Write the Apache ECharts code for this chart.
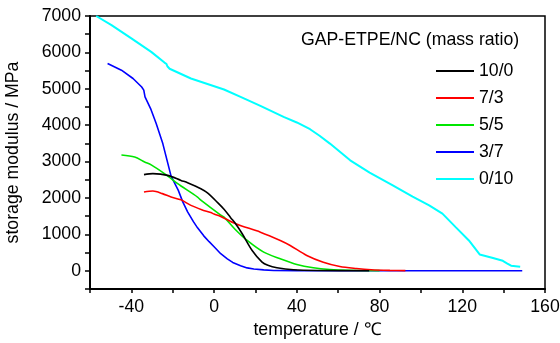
<!DOCTYPE html>
<html>
<head>
<meta charset="utf-8">
<script src="https://cdn.jsdelivr.net/npm/echarts@6/dist/echarts.min.js"></script>
<style>html,body{margin:0;padding:0;background:#fff;}#c{width:560px;height:343px;}</style>
</head>
<body>
<div id="c"></div>
<script>
var seriesNames = ['10/0', '7/3', '5/5', '3/7', '0/10'];
var seriesColors = ['#000000', '#ff0000', '#00e600', '#0000ff', '#00ffff'];

var t_10_0 = [-33.9, -29.6, -22.4, -16, -12.8, -6.4, -3.2, 1.6, 4.8, 8, 10.4, 13.6, 18.4, 23.2, 26, 30.4, 38.4, 50, 75];
var e_10_0 = [2642, 2669, 2622, 2483, 2420, 2256, 2140, 1880, 1690, 1460, 1293, 1018, 559, 237, 150, 83, 28, 8, 2];

var t_7_3 = [-33.9, -29.6, -25, -20.8, -16, -11.2, -6, -1.6, 0, 3.2, 10.4, 22.4, 32, 36.8, 44.8, 52.8, 60.8, 68.8, 76, 85, 92.5];
var e_7_3 = [2163, 2191, 2120, 2026, 1950, 1797, 1680, 1600, 1560, 1494, 1293, 1062, 834, 696, 421, 237, 118, 63, 30, 12, 5];

var t_5_5 = [-44.8, -38.4, -33.6, -30.4, -24, -17.6, -16, -8, -6.4, 3.2, 4.8, 10, 16, 24, 32, 40, 48, 56, 65, 80];
var e_5_5 = [3180, 3126, 2990, 2910, 2669, 2394, 2330, 2026, 1940, 1530, 1475, 1150, 834, 512, 330, 173, 83, 36, 15, 5];

var t_3_7 = [-51.5, -44.8, -39.2, -35, -34, -33.4, -30.7, -28, -24.8, -20.8, -17.3, -15.2, -12.8, -10, -8, -5, -2.4, 0, 3.2, 6.4, 9, 12.8, 16, 19.2, 24, 28.8, 40, 60, 100, 149];
var e_3_7 = [5696, 5512, 5283, 5050, 4962, 4777, 4458, 4045, 3495, 2600, 2210, 1900, 1620, 1350, 1180, 960, 800, 660, 470, 330, 230, 140, 80, 50, 25, 10, 5, 3, 2, 0];

var t_0_10 = [-57, -49.6, -40, -30.4, -24, -23, -22.6, -23.4, -21.5, -11.2, 4.8, 12.8, 22.4, 33.6, 40, 46.4, 51, 56, 65.8, 75.2, 86.4, 96, 104, 110.4, 116.8, 123.2, 128.4, 134.4, 139.6, 141.8, 143.6, 148];
var e_0_10 = [7000, 6750, 6385, 6015, 5720, 5680, 5620, 5580, 5550, 5283, 4980, 4777, 4530, 4227, 4075, 3890, 3710, 3495, 3035, 2697, 2347, 2035, 1800, 1570, 1200, 834, 449, 358, 274, 200, 140, 110];

var xTicks = [-40, 0, 40, 80, 120, 160];
var yTicks = [0, 1000, 2000, 3000, 4000, 5000, 6000, 7000];

var temps = [t_10_0, t_7_3, t_5_5, t_3_7, t_0_10];
var mods = [e_10_0, e_7_3, e_5_5, e_3_7, e_0_10];

var FONT = 'Arial, "Liberation Sans", sans-serif';
var FS = 17.7;

var series = seriesNames.map(function (n, i) {
  var data = temps[i].map(function (t, k) { return [t, mods[i][k]]; });
  return {
    name: n, type: 'line', data: data, showSymbol: false, symbol: 'none',
    smooth: i === 3 || i === 4 ? false : 0.3,
    lineStyle: { color: seriesColors[i], width: i === 4 ? 2 : 1.6 },
    itemStyle: { color: seriesColors[i] },
    z: 5 - i
  };
});

var chart = echarts.init(document.getElementById('c'), null, { renderer: 'canvas' });
chart.setOption({
  animation: false,
  backgroundColor: '#fff',
  grid: { left: 90, right: 15, top: 16, bottom: 54, containLabel: false, outerBoundsMode: 'none',
    show: true, borderColor: '#000', borderWidth: 1.5, backgroundColor: 'transparent' },
  xAxis: {
    type: 'value', min: -60, max: 160, interval: 20,
    name: 'temperature / ℃', nameLocation: 'middle', nameGap: 32,
    nameTextStyle: { fontFamily: FONT, fontSize: FS, color: '#000' },
    axisLine: { show: true, onZero: false, lineStyle: { color: '#000', width: 2 } },
    axisTick: { show: true, length: 4, lineStyle: { color: '#000', width: 1.5 } },
    axisLabel: {
      fontFamily: FONT, fontSize: FS, color: '#000', margin: 9,
      formatter: function (v) { return xTicks.indexOf(v) >= 0 ? String(v) : ''; }
    },
    splitLine: { show: false }
  },
  yAxis: {
    type: 'value', min: -500, max: 7000, interval: 500,
    name: 'storage modulus / MPa', nameLocation: 'middle', nameGap: 68,
    nameTextStyle: { fontFamily: FONT, fontSize: FS, color: '#000' },
    axisLine: { show: true, onZero: false, lineStyle: { color: '#000', width: 2 } },
    axisTick: { show: true, length: 5, lineStyle: { color: '#000', width: 1.5 } },
    axisLabel: {
      fontFamily: FONT, fontSize: FS, color: '#000', margin: 9,
      formatter: function (v) { return yTicks.indexOf(v) >= 0 ? String(v) : ''; }
    },
    splitLine: { show: false }
  },
  legend: {
    orient: 'vertical', left: 436, top: 61, padding: 0,
    itemWidth: 38, itemHeight: 2, itemGap: 7, icon: 'rect',
    textStyle: { fontFamily: FONT, fontSize: FS, color: '#000', lineHeight: 20, padding: [0, 0, 0, 0] },
    data: seriesNames
  },
  graphic: [{
    type: 'text', left: 301, top: 31,
    style: { text: 'GAP-ETPE/NC (mass ratio)', font: FS + 'px ' + FONT, fill: '#000' }
  }],
  series: series
});
</script>
</body>
</html>
